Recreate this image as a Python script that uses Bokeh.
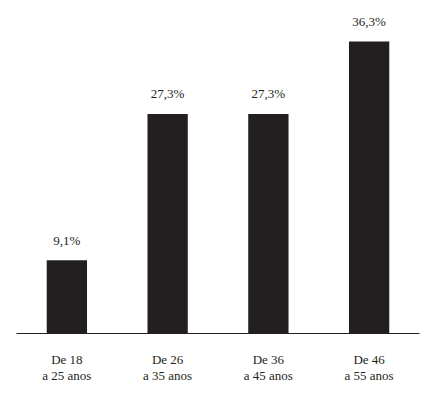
from bokeh.plotting import figure
from bokeh.models import ColumnDataSource, FactorRange, Range1d
from bokeh.core.properties import value
from bokeh.embed import file_html
from bokeh.resources import INLINE

categories = ["De 18\na 25 anos", "De 26\na 35 anos", "De 36\na 45 anos", "De 46\na 55 anos"]
values = [9.1, 27.3, 27.3, 36.3]
labels = [f"{v:.1f}%".replace(".", ",") for v in values]

src = ColumnDataSource(dict(cat=categories, val=values, lab=labels))

p = figure(x_range=FactorRange(factors=categories, range_padding=0),
           y_range=Range1d(0, 40.4),
           width=429, height=386, output_backend="svg", toolbar_location=None,
           min_border_left=16, min_border_right=10, min_border_top=8, min_border_bottom=52)

p.vbar(x="cat", top="val", width=0.4, source=src, fill_color="#231f20", line_color=None)
p.text(x="cat", y="val", text="lab", source=src, y_offset=-20,
       text_align="center", text_baseline="middle",
       text_font=value("Liberation Serif"), text_font_size="13px", text_color="#231f20")

p.yaxis.visible = False
p.xgrid.visible = False
p.ygrid.visible = False
p.outline_line_color = None
p.background_fill_color = "white"
p.border_fill_color = "white"

ax = p.xaxis[0]
ax.axis_line_color = "#231f20"
ax.axis_line_width = 1
ax.major_tick_line_color = None
ax.minor_tick_line_color = None
ax.major_tick_out = 0
ax.major_tick_in = 0
ax.major_label_standoff = 18
ax.major_label_text_font = "Liberation Serif"
ax.major_label_text_font_size = "13px"
ax.major_label_text_color = "#231f20"
ax.major_label_text_align = "center"
ax.major_label_text_line_height = 1.1

open("out.html", "w").write(file_html(p, INLINE))
